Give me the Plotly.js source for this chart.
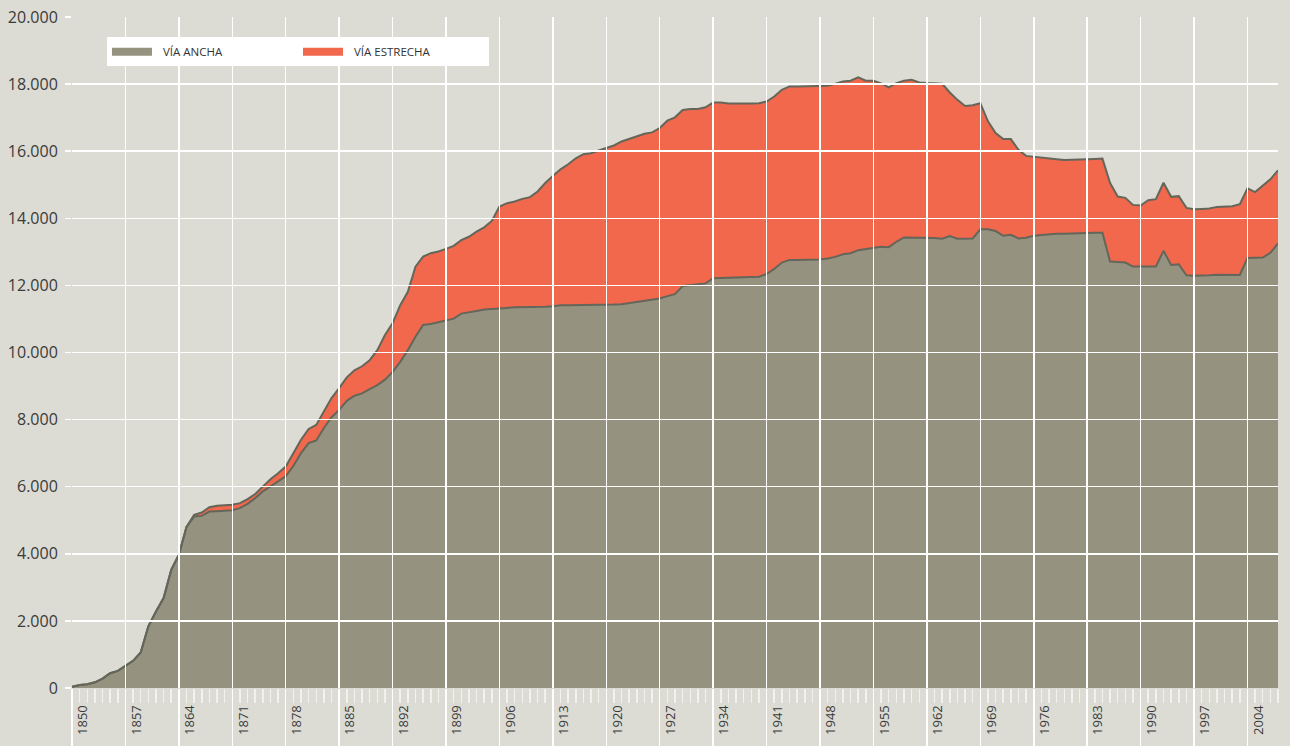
<!DOCTYPE html>
<html>
<head>
<meta charset="utf-8">
<script src="https://cdn.plot.ly/plotly-3.0.1.min.js"></script>
<style>html,body{margin:0;padding:0;background:#dcdcd4;}#chart{width:1290px;height:746px;}</style>
</head>
<body>
<div id="chart"></div>
<script>
const years = [1850,1851,1852,1853,1854,1855,1856,1857,1858,1859,1860,1861,1862,1863,1864,1865,1866,1867,1868,1869,
1870,1871,1872,1873,1874,1875,1876,1877,1878,1879,1880,1881,1882,1883,1884,1885,1886,1887,1888,1889,
1890,1891,1892,1893,1894,1895,1896,1897,1898,1899,1900,1901,1902,1903,1904,1905,1906,1907,1908,1909,
1910,1911,1912,1913,1914,1915,1916,1917,1918,1919,1920,1921,1922,1923,1924,1925,1926,1927,1928,1929,
1930,1931,1932,1933,1934,1935,1936,1937,1938,1939,1940,1941,1942,1943,1944,1945,1946,1947,1948,1949,
1950,1951,1952,1953,1954,1955,1956,1957,1958,1959,1960,1961,1962,1963,1964,1965,1966,1967,1968,1969,
1970,1971,1972,1973,1974,1975,1976,1977,1978,1979,1980,1981,1982,1983,1984,1985,1986,1987,1988,1989,
1990,1991,1992,1993,1994,1995,1996,1997,1998,1999,2000,2001,2002,2003,2004,2005,2006,2007,2008];

// Vía ancha (km)
const viaAncha = [40,90,110,170,280,440,510,660,810,1060,1840,2280,2680,3520,3970,4800,5110,5130,5260,5270,
5280,5300,5360,5490,5660,5860,6010,6160,6310,6620,7000,7300,7380,7750,8070,8290,8560,8710,8780,8910,
9030,9190,9420,9720,10070,10470,10820,10850,10900,10970,11010,11160,11210,11240,11280,11290,11300,11330,11350,11350,
11350,11350,11360,11380,11410,11410,11410,11410,11410,11420,11420,11430,11440,11470,11520,11540,11560,11610,11680,11740,
11980,12010,12020,12060,12210,12220,12230,12240,12250,12250,12260,12340,12490,12680,12760,12760,12760,12760,12770,12800,
12850,12930,12960,13050,13080,13120,13150,13140,13300,13430,13430,13430,13430,13410,13390,13470,13390,13390,13400,13670,
13670,13620,13480,13510,13400,13420,13480,13500,13530,13540,13540,13540,13550,13560,13570,13570,12710,12700,12680,12560,
12560,12560,12560,13030,12610,12630,12300,12290,12290,12300,12320,12310,12310,12310,12820,12830,12830,12970,13250];

// Vía estrecha (km), apilada sobre vía ancha
const viaEstrecha = [0,0,0,0,0,0,0,0,0,0,0,0,0,0,0,0,50,100,130,160,
160,160,150,140,120,150,210,240,290,380,400,420,460,490,570,650,700,760,810,860,
1040,1330,1450,1690,1740,2090,2040,2110,2110,2120,2170,2190,2240,2360,2450,2630,3050,3120,3150,3230,
3280,3450,3690,3880,4050,4200,4380,4500,4530,4600,4670,4740,4850,4900,4930,4980,5000,5080,5230,5270,
5250,5250,5240,5250,5240,5230,5190,5170,5170,5170,5170,5140,5140,5150,5170,5170,5170,5170,5160,5150,
5160,5150,5140,5150,5020,4980,4870,4760,4730,4670,4700,4620,4600,4610,4620,4280,4140,3960,3970,3760,
3220,2920,2880,2850,2640,2440,2350,2320,2250,2220,2200,2200,2190,2200,2200,2210,2340,1950,1930,1840,
1820,1980,2010,2030,2030,2030,2010,1980,1990,1990,2020,2050,2050,2110,2070,1950,2150,2190,2180];

const tickYears = [1850,1857,1864,1871,1878,1885,1892,1899,1906,1913,1920,1927,1934,1941,1948,1955,1962,1969,1976,1983,1990,1997,2004];
const tickLabels = ['1850','1857','1864','1871','1878','1885','1892','1899','1906','1913','1920','1927','1934','1941','1948','1955','1962','1969','1976','1983','1990','1997','2004'];
const seriesNames = ['VÍA ANCHA','VÍA ESTRECHA'];

const GREY = '#959380', RED = '#f2684c', EDGE = '#64665a', BG = '#dcdcd4';
const FONT = '"Open Sans", "Noto Sans", sans-serif';

const traces = [
  {type:'scatter', x:years, y:viaAncha, stackgroup:'km', mode:'lines',
   line:{color:EDGE, width:2}, fillcolor:GREY, name:seriesNames[0], showlegend:false, hoverinfo:'x+y'},
  {type:'scatter', x:years, y:viaEstrecha, stackgroup:'km', mode:'lines',
   line:{color:EDGE, width:2}, fillcolor:RED, name:seriesNames[1], showlegend:false, hoverinfo:'x+y'},
  // overlay subplot: carries grid, ticks and legend above the areas
  {type:'scatter', x:[years[0]], y:[0], xaxis:'x2', yaxis:'y2', mode:'markers',
   marker:{opacity:0}, showlegend:false, hoverinfo:'skip'},
  {type:'scatter', x:[null], y:[null], xaxis:'x2', yaxis:'y2', mode:'lines',
   line:{color:GREY, width:8}, name:'\u00a0\u00a0' + seriesNames[0], hoverinfo:'skip'},
  {type:'scatter', x:[null], y:[null], xaxis:'x2', yaxis:'y2', mode:'lines',
   line:{color:RED, width:8}, name:'\u00a0\u00a0' + seriesNames[1], hoverinfo:'skip'}
];

const xr = [1850, 2008], yr = [0, 20000];
const layout = {
  width:1290, height:746,
  margin:{l:72, r:12, t:17, b:58},
  paper_bgcolor:BG, plot_bgcolor:'rgba(0,0,0,0)',
  separators:',.',
  font:{family:FONT, color:'#3a3a3a'},
  showlegend:true,
  xaxis:{range:xr, domain:[0,1], visible:false, fixedrange:true},
  yaxis:{range:yr, domain:[0,1], visible:false, fixedrange:true},
  xaxis2:{range:xr, domain:[0,1], anchor:'y2', fixedrange:true,
    tickmode:'array', tickvals:tickYears, ticktext:tickLabels,
    showgrid:true, gridcolor:'#ffffff', gridwidth:1.5, zeroline:false, showline:false,
    ticks:'outside', ticklen:60, tickwidth:1.5, tickcolor:'#ffffff',
    tickangle:-90, tickfont:{family:FONT, size:13, color:'#3a3a3a'},
    ticklabelshift:11, ticklabelstandoff:-49,
    minor:{tickmode:'linear', tick0:1850, dtick:1, ticks:'outside', ticklen:14, tickwidth:1.5, tickcolor:'#f2f2ec', showgrid:false},
    automargin:false},
  yaxis2:{range:yr, domain:[0,1], anchor:'x2', fixedrange:true,
    tickmode:'linear', tick0:0, dtick:2000, tickformat:',d',
    showgrid:true, gridcolor:'#ffffff', gridwidth:1.5, zeroline:false, showline:false,
    ticks:'outside', ticklen:6, tickwidth:1.5, tickcolor:'#ffffff',
    tickfont:{family:FONT, size:16, color:'#3a3a3a'}, ticklabelstandoff:4,
    automargin:false},
  legend:{orientation:'h', x:0.029, y:0.970, xanchor:'left', yanchor:'top',
    bgcolor:'#ffffff', borderwidth:0, font:{family:FONT, size:11.5, color:'#333333'},
    entrywidth:136, itemwidth:40, traceorder:'normal'}
};

Plotly.newPlot('chart', traces, layout, {displayModeBar:false, staticPlot:true});
</script>
</body>
</html>
